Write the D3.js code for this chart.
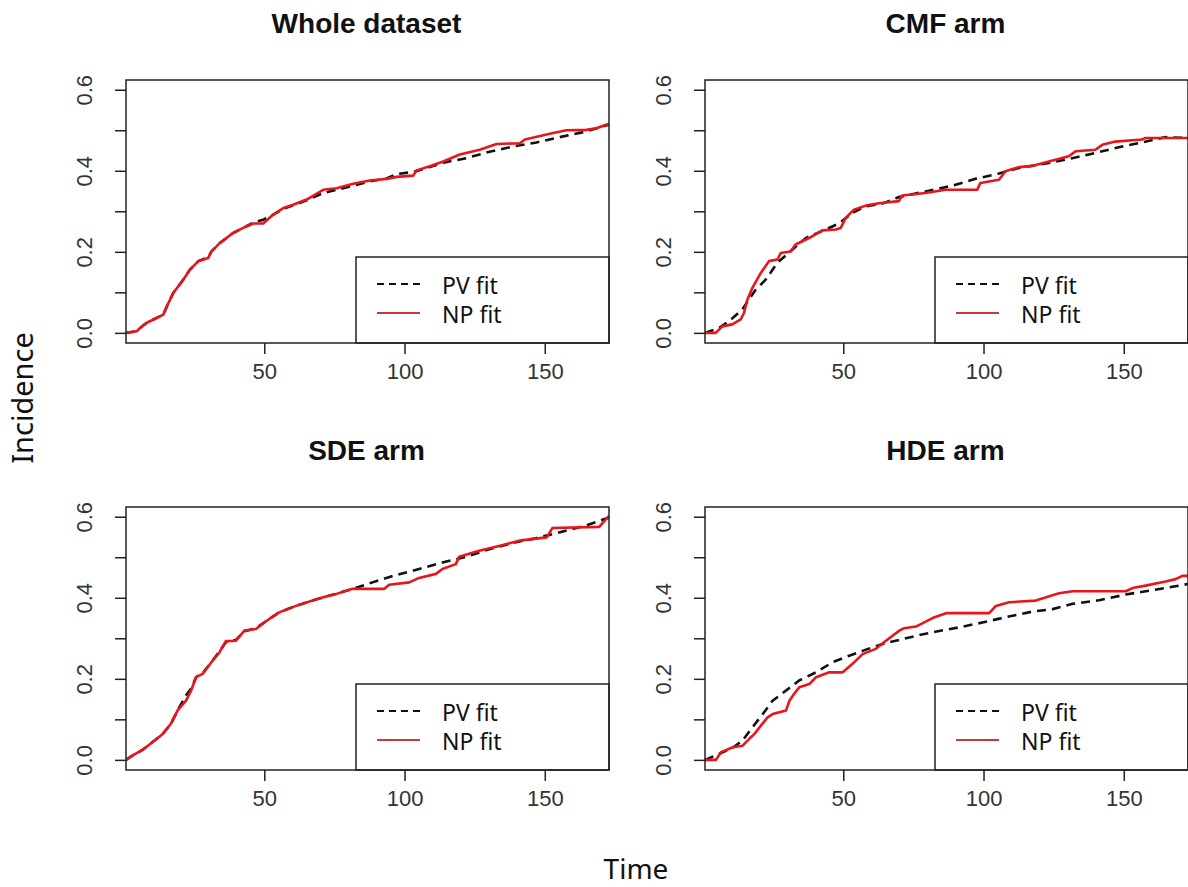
<!DOCTYPE html>
<html>
<head>
<meta charset="utf-8">
<script src="https://cdn.jsdelivr.net/npm/d3@7"></script>
<style>
  body { margin: 0; background: #fff; }
</style>
</head>
<body>
<div id="chart"></div>
<script>
// data: [time, incidence]
var wholePV = [[0.7,0],[4.5,0.004],[5.7,0.012],[8.1,0.025],[10.5,0.033],[14.0,0.045],[15.3,0.066],[17.6,0.099],[21.1,0.131],[23.5,0.156],[26.5,0.177],[30.0,0.187],[31.2,0.201],[34.2,0.222],[39.0,0.247],[42.5,0.259],[46.1,0.272],[49.6,0.279],[53.2,0.292],[56.8,0.306],[60.3,0.315],[65.1,0.327],[71.0,0.345],[75.8,0.353],[81.7,0.363],[87.6,0.374],[93.6,0.381],[97.2,0.392],[103.1,0.397],[109.0,0.409],[113.8,0.420],[122.0,0.431],[129.2,0.445],[138.7,0.460],[147.0,0.470],[155.3,0.483],[164.8,0.497],[172.9,0.514]];
var wholeNP = [[0.7,0],[4.5,0.004],[5.7,0.012],[8.1,0.025],[10.5,0.033],[14.0,0.045],[15.3,0.066],[17.6,0.099],[21.1,0.131],[23.5,0.156],[26.5,0.177],[30.0,0.185],[31.2,0.201],[34.2,0.222],[39.0,0.247],[42.5,0.259],[46.1,0.270],[49.6,0.270],[53.2,0.292],[56.8,0.308],[60.3,0.316],[65.1,0.329],[71.0,0.353],[75.8,0.357],[81.7,0.368],[87.6,0.376],[93.6,0.380],[97.2,0.385],[103.1,0.388],[104.3,0.401],[109.0,0.411],[113.8,0.423],[119.7,0.440],[126.8,0.452],[132.8,0.466],[141.1,0.468],[142.9,0.477],[153.0,0.493],[157.7,0.500],[164.8,0.501],[168.4,0.505],[172.9,0.516]];

var cmfPV = [[0.7,0],[5.7,0.012],[9.3,0.029],[14.0,0.058],[18.8,0.107],[22.3,0.131],[26.5,0.173],[31.8,0.205],[36.6,0.234],[43.7,0.255],[48.5,0.270],[53.2,0.296],[58.0,0.312],[63.9,0.319],[69.8,0.335],[79.3,0.349],[88.8,0.363],[97.1,0.380],[105.5,0.393],[112.6,0.407],[123.3,0.419],[131.6,0.431],[139.9,0.444],[148.2,0.458],[156.5,0.470],[164.8,0.483],[172.9,0.481]];
var cmfNP = [[0.7,0],[4.5,0],[6.9,0.016],[10.4,0.021],[13.4,0.033],[14.6,0.049],[15.8,0.082],[17.6,0.111],[20.6,0.148],[23.5,0.177],[26.5,0.181],[27.7,0.197],[31.2,0.201],[33.0,0.218],[37.8,0.234],[42.5,0.253],[47.3,0.255],[49.1,0.259],[50.8,0.283],[53.8,0.304],[58.0,0.314],[62.7,0.320],[69.8,0.325],[71.0,0.339],[79.3,0.345],[86.5,0.353],[97.7,0.353],[98.9,0.370],[105.5,0.378],[107.8,0.399],[112.6,0.409],[117.3,0.412],[123.3,0.423],[130.4,0.436],[132.8,0.448],[139.9,0.452],[142.3,0.464],[147.0,0.472],[156.5,0.477],[157.7,0.481],[172.9,0.481]];

var sdePV = [[0.7,0],[3.1,0.011],[6.7,0.025],[10.2,0.044],[13.8,0.064],[16.7,0.089],[19.1,0.122],[22.1,0.159],[23.9,0.176],[25.7,0.204],[28.0,0.214],[31.6,0.245],[34.0,0.268],[36.3,0.290],[39.9,0.296],[42.9,0.317],[47.0,0.325],[50.6,0.342],[55.3,0.364],[61.3,0.380],[67.2,0.393],[72.0,0.403],[75.5,0.410],[81.5,0.422],[88.6,0.438],[96.9,0.456],[105.2,0.471],[113.5,0.487],[121.9,0.501],[130.2,0.520],[139.7,0.537],[146.8,0.547],[155.1,0.561],[164.6,0.578],[172.9,0.598]];
var sdeNP = [[0.7,0],[3.1,0.011],[6.7,0.025],[10.2,0.044],[13.8,0.064],[16.7,0.089],[19.1,0.122],[22.1,0.146],[23.9,0.171],[25.7,0.204],[28.0,0.212],[31.6,0.245],[34.0,0.265],[36.3,0.293],[39.9,0.294],[42.9,0.319],[47.0,0.323],[50.6,0.342],[55.3,0.364],[61.3,0.380],[67.2,0.393],[72.0,0.403],[75.5,0.409],[81.5,0.422],[92.8,0.422],[94.5,0.432],[101.7,0.438],[105.2,0.449],[111.2,0.459],[113.5,0.471],[118.3,0.483],[119.5,0.501],[126.6,0.516],[133.7,0.528],[140.9,0.541],[150.7,0.549],[152.7,0.572],[169.4,0.575],[172.9,0.602]];

var hdePV = [[0.7,0],[5.8,0.015],[10.6,0.030],[14.1,0.048],[17.7,0.081],[21.3,0.113],[24.8,0.146],[29.6,0.171],[34.3,0.196],[40.3,0.216],[46.2,0.241],[52.1,0.257],[58.1,0.272],[64.0,0.286],[69.9,0.296],[75.9,0.306],[81.8,0.315],[91.3,0.327],[99.6,0.339],[107.9,0.352],[117.5,0.366],[124.6,0.372],[131.7,0.385],[141.2,0.394],[150.7,0.408],[157.8,0.416],[167.3,0.427],[172.9,0.434]];
var hdeNP = [[0.7,0],[4.6,0],[6.4,0.019],[10.6,0.031],[14.1,0.035],[16.5,0.052],[18.3,0.064],[20.7,0.085],[23.0,0.105],[24.8,0.113],[29.6,0.122],[30.8,0.146],[32.5,0.163],[34.3,0.179],[37.9,0.187],[40.3,0.204],[45.0,0.216],[49.8,0.216],[53.3,0.237],[56.9,0.261],[61.6,0.274],[65.2,0.294],[70.0,0.319],[71.7,0.325],[75.9,0.329],[81.8,0.350],[86.6,0.362],[102.0,0.362],[104.4,0.380],[109.1,0.389],[118.6,0.393],[126.9,0.411],[131.7,0.416],[150.7,0.416],[153.1,0.424],[157.8,0.430],[164.9,0.440],[168.5,0.446],[170.9,0.454],[172.9,0.454]];

var panelTitles = ["Whole dataset", "CMF arm", "SDE arm", "HDE arm"];
var pvSeries = [wholePV, cmfPV, sdePV, hdePV];
var npSeries = [wholeNP, cmfNP, sdeNP, hdeNP];
var legendLabels = ["PV fit", "NP fit"];
var xTicks = [50, 100, 150];
var yTicks = [0, 0.1, 0.2, 0.3, 0.4, 0.5, 0.6];
var yTickLabels = ["0.0", "", "0.2", "", "0.4", "", "0.6"];

// layout
var W = 1188, H = 887;
var pw = 483, ph = 263;
var colX = [126, 705], rowY = [80, 507];
var red = "#e8151b";

var svg = d3.select("#chart")
  .append("svg")
  .attr("width", W)
  .attr("height", H)
  .style("font-family", "'Liberation Sans', Arial, sans-serif");

svg.append("rect").attr("width", W).attr("height", H).attr("fill", "#fff");

var x = d3.scaleLinear().domain([0.7, 172.9]).range([0, pw]);
var y = d3.scaleLinear().domain([-0.025, 0.624]).range([ph, 0]);

var line = d3.line()
  .x(function (d) { return x(d[0]); })
  .y(function (d) { return y(d[1]); });

panelTitles.forEach(function (title, i) {
  var g = svg.append("g")
    .attr("transform", "translate(" + colX[i % 2] + "," + rowY[Math.floor(i / 2)] + ")");

  g.append("clipPath").attr("id", "clip" + i)
    .append("rect").attr("width", pw).attr("height", ph);

  // title
  g.append("text")
    .attr("x", pw / 2 - 1)
    .attr("y", -47)
    .attr("text-anchor", "middle")
    .attr("font-size", 28)
    .attr("font-weight", "bold")
    .attr("fill", "#111")
    .text(title);

  // x axis
  var xa = g.append("g")
    .attr("transform", "translate(0," + ph + ")")
    .call(d3.axisBottom(x).tickValues(xTicks).tickSize(11).tickPadding(9));
  // y axis
  var ya = g.append("g")
    .call(d3.axisLeft(y).tickValues(yTicks).tickSize(11)
      .tickFormat(function (d, j) { return yTickLabels[j]; }));
  [xa, ya].forEach(function (a) {
    a.select(".domain").remove();
    a.selectAll("line").attr("stroke", "#222").attr("stroke-width", 1.5);
    a.selectAll("text").attr("font-size", 22).attr("fill", "#333")
      .attr("font-family", "'Liberation Sans', Arial, sans-serif");
  });
  xa.selectAll("text").attr("dy", "0.71em");
  ya.selectAll("text")
    .attr("x", null).attr("dy", null)
    .attr("text-anchor", "middle")
    .attr("transform", "translate(-34,0) rotate(-90)");

  var plot = g.append("g").attr("clip-path", "url(#clip" + i + ")");

  plot.append("path")
    .datum(pvSeries[i])
    .attr("fill", "none")
    .attr("stroke", "#111")
    .attr("stroke-width", 2.6)
    .attr("stroke-dasharray", "9,6")
    .attr("d", line);

  plot.append("path")
    .datum(npSeries[i])
    .attr("fill", "none")
    .attr("stroke", red)
    .attr("stroke-width", 2.6)
    .attr("stroke-linejoin", "round")
    .attr("d", line);

  // legend
  var lx = 230, ly = 177;
  var lg = g.append("g").attr("transform", "translate(" + lx + "," + ly + ")");
  lg.append("rect")
    .attr("width", pw - lx).attr("height", ph - ly)
    .attr("fill", "#fff").attr("stroke", "#222").attr("stroke-width", 1.5);
  legendLabels.forEach(function (lab, j) {
    var yy = 29 + j * 29;
    lg.append("line")
      .attr("x1", 21).attr("x2", 64).attr("y1", yy - 2).attr("y2", yy - 2)
      .attr("stroke", j === 0 ? "#111" : "#c8393b")
      .attr("stroke-width", j === 0 ? 2 : 2.2)
      .attr("stroke-dasharray", j === 0 ? "7,5" : null);
    lg.append("text")
      .attr("x", 86).attr("y", yy + 8)
      .attr("font-family", "'Noto Sans', 'Open Sans', sans-serif")
      .attr("font-size", 23)
      .attr("fill", "#111")
      .text(lab);
  });

  // box
  g.append("rect")
    .attr("width", pw).attr("height", ph)
    .attr("fill", "none").attr("stroke", "#222").attr("stroke-width", 1.5);
});

// shared axis titles
svg.append("text")
  .attr("transform", "translate(33,398) rotate(-90)")
  .attr("text-anchor", "middle")
  .attr("font-family", "'Noto Sans', 'Open Sans', sans-serif")
  .attr("font-size", 29)
  .attr("fill", "#111")
  .text("Incidence");

svg.append("text")
  .attr("x", 636).attr("y", 879)
  .attr("text-anchor", "middle")
  .attr("font-family", "'Noto Sans', 'Open Sans', sans-serif")
  .attr("font-size", 28)
  .attr("fill", "#111")
  .text("Time");
</script>
</body>
</html>
